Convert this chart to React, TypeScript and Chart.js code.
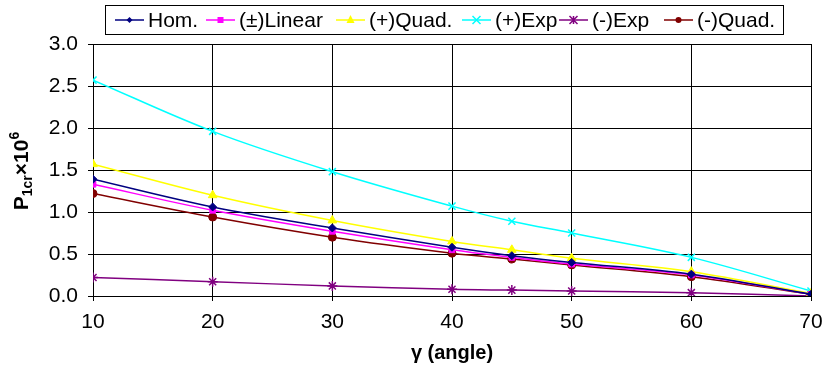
import React, { useEffect, useRef } from "react";
import { Chart, registerables } from "chart.js";

Chart.register(...registerables);

const angles = [10, 20, 30, 40, 45, 50, 60, 70];
const hom = [1.39, 1.06, 0.81, 0.58, 0.48, 0.4, 0.26, 0.02];
const linear = [1.33, 1.02, 0.77, 0.55, 0.46, 0.38, 0.25, 0.02];
const quadPlus = [1.57, 1.2, 0.9, 0.65, 0.55, 0.45, 0.29, 0.03];
const expPlus = [2.57, 1.96, 1.48, 1.07, 0.89, 0.75, 0.46, 0.06];
const expMinus = [0.22, 0.17, 0.12, 0.08, 0.07, 0.06, 0.04, 0.0];
const quadMinus = [1.22, 0.94, 0.7, 0.51, 0.44, 0.37, 0.23, 0.02];

const seriesNames = ["Hom.", "(±)Linear", "(+)Quad.", "(+)Exp", "(-)Exp", "(-)Quad."];
const seriesColors = ["#000080", "#FF00FF", "#FFFF00", "#00FFFF", "#800080", "#800000"];
const seriesStyles = ["rectRot", "rect", "triangle", "crossRot", "star", "circle"];
const seriesRadius = [4, 4, 5, 5, 5, 4];
const seriesValues = [hom, linear, quadPlus, expPlus, expMinus, quadMinus];

const xTitle = "γ (angle)";
const FONT = "'Liberation Sans', Arial, sans-serif";

const legendTextX = [148, 239, 369, 495, 592, 697];

function drawMarker(ctx: any, style: string, x: number, y: number, r: number, color: string) {
  ctx.save();
  ctx.fillStyle = color;
  ctx.strokeStyle = color;
  ctx.lineWidth = 1.5;
  ctx.beginPath();
  if (style === "rectRot") {
    ctx.moveTo(x, y - r);
    ctx.lineTo(x + r, y);
    ctx.lineTo(x, y + r);
    ctx.lineTo(x - r, y);
    ctx.closePath();
    ctx.fill();
  } else if (style === "rect") {
    ctx.rect(x - r, y - r, 2 * r, 2 * r);
    ctx.fill();
  } else if (style === "triangle") {
    ctx.moveTo(x, y - r - 1);
    ctx.lineTo(x + r, y + r - 1);
    ctx.lineTo(x - r, y + r - 1);
    ctx.closePath();
    ctx.fill();
  } else if (style === "crossRot") {
    ctx.moveTo(x - r, y - r);
    ctx.lineTo(x + r, y + r);
    ctx.moveTo(x + r, y - r);
    ctx.lineTo(x - r, y + r);
    ctx.stroke();
  } else if (style === "star") {
    ctx.moveTo(x - r, y - r);
    ctx.lineTo(x + r, y + r);
    ctx.moveTo(x + r, y - r);
    ctx.lineTo(x - r, y + r);
    ctx.moveTo(x, y - r);
    ctx.lineTo(x, y + r);
    ctx.stroke();
  } else {
    ctx.arc(x, y, r, 0, Math.PI * 2);
    ctx.fill();
  }
  ctx.restore();
}

const customPlugin = {
  id: "custom",
  afterDraw(chart: any) {
    const ctx = chart.ctx;
    ctx.save();
    // Legend box
    ctx.strokeStyle = "#000";
    ctx.lineWidth = 1;
    ctx.strokeRect(105.5, 5.5, 678, 29);
    ctx.font = `21px ${FONT}`;
    ctx.textBaseline = "alphabetic";
    ctx.textAlign = "left";
    seriesNames.forEach((name, i) => {
      const tx = legendTextX[i];
      const x1 = tx - 33;
      const x2 = tx - 4;
      const cy = 20;
      ctx.strokeStyle = seriesColors[i];
      ctx.lineWidth = 1.5;
      ctx.beginPath();
      ctx.moveTo(x1, cy);
      ctx.lineTo(x2, cy);
      ctx.stroke();
      drawMarker(ctx, seriesStyles[i], (x1 + x2) / 2, cy, seriesRadius[i] - 1, seriesColors[i]);
      ctx.fillStyle = "#000";
      ctx.fillText(name, tx, 27);
    });

    // Y axis title
    ctx.fillStyle = "#000";
    ctx.translate(28, 171);
    ctx.rotate(-Math.PI / 2);
    const big = `bold 21px ${FONT}`;
    const small = `bold 14px ${FONT}`;
    const parts = [
      { t: "P", f: big, dy: 0 },
      { t: "1cr", f: small, dy: 4 },
      { t: "×10", f: big, dy: 0 },
      { t: "6", f: small, dy: -9 },
    ];
    let total = 0;
    parts.forEach((p) => {
      ctx.font = p.f;
      total += ctx.measureText(p.t).width;
    });
    let x = -total / 2;
    ctx.textAlign = "left";
    ctx.textBaseline = "alphabetic";
    parts.forEach((p) => {
      ctx.font = p.f;
      ctx.fillText(p.t, x, p.dy);
      x += ctx.measureText(p.t).width;
    });
    ctx.restore();

    // X axis title
    ctx.save();
    const area = chart.chartArea;
    ctx.fillStyle = "#000";
    ctx.font = `bold 20px ${FONT}`;
    ctx.textAlign = "center";
    ctx.textBaseline = "alphabetic";
    ctx.fillText(xTitle, (area.left + area.right) / 2, 359);
    ctx.restore();
  },
};

export default function App() {
  const ref = useRef<HTMLCanvasElement | null>(null);
  useEffect(() => {
    if (!ref.current) return;
    const datasets = seriesNames.map((name, i) => ({
      label: name,
      data: angles.map((a, j) => ({ x: a, y: seriesValues[i][j] })),
      borderColor: seriesColors[i],
      backgroundColor: seriesColors[i],
      pointStyle: seriesStyles[i] as any,
      pointRadius: seriesRadius[i],
      pointBorderWidth: seriesStyles[i] === "crossRot" || seriesStyles[i] === "star" ? 1.5 : 1,
      borderWidth: 1.5,
      tension: 0.35,
      fill: false,
    }));
    const chart = new Chart(ref.current, {
      type: "line",
      data: { datasets },
      plugins: [customPlugin],
      options: {
        animation: false,
        responsive: true,
        maintainAspectRatio: false,
        layout: { padding: { top: 44, right: 13, left: 0, bottom: 0 } },
        plugins: { legend: { display: false }, title: { display: false }, tooltip: { enabled: false } },
        scales: {
          x: {
            type: "linear",
            min: 10,
            max: 70,
            ticks: {
              stepSize: 10,
              color: "#000",
              font: { family: FONT, size: 21 },
              padding: 9,
            },
            grid: { color: "#000", lineWidth: 1, tickLength: 5 },
            border: { color: "#000", width: 1 },
            afterFit(scale: any) {
              scale.height = 76;
              scale.paddingLeft = 0;
              scale.paddingRight = 0;
            },
          },
          y: {
            min: 0,
            max: 3,
            ticks: {
              stepSize: 0.5,
              color: "#000",
              font: { family: FONT, size: 21 },
              padding: 10,
              callback: (v: any) => Number(v).toFixed(1),
            },
            grid: { color: "#000", lineWidth: 1, tickLength: 5 },
            border: { color: "#000", width: 1 },
            afterFit(scale: any) {
              scale.width = 93;
              scale.paddingTop = 0;
              scale.paddingBottom = 0;
            },
          },
        },
      },
    });
    return () => chart.destroy();
  }, []);
  return (
    <div style={{ position: "absolute", left: 0, top: 0, width: 824, height: 372, background: "#fff" }}>
      <canvas ref={ref} />
    </div>
  );
}
